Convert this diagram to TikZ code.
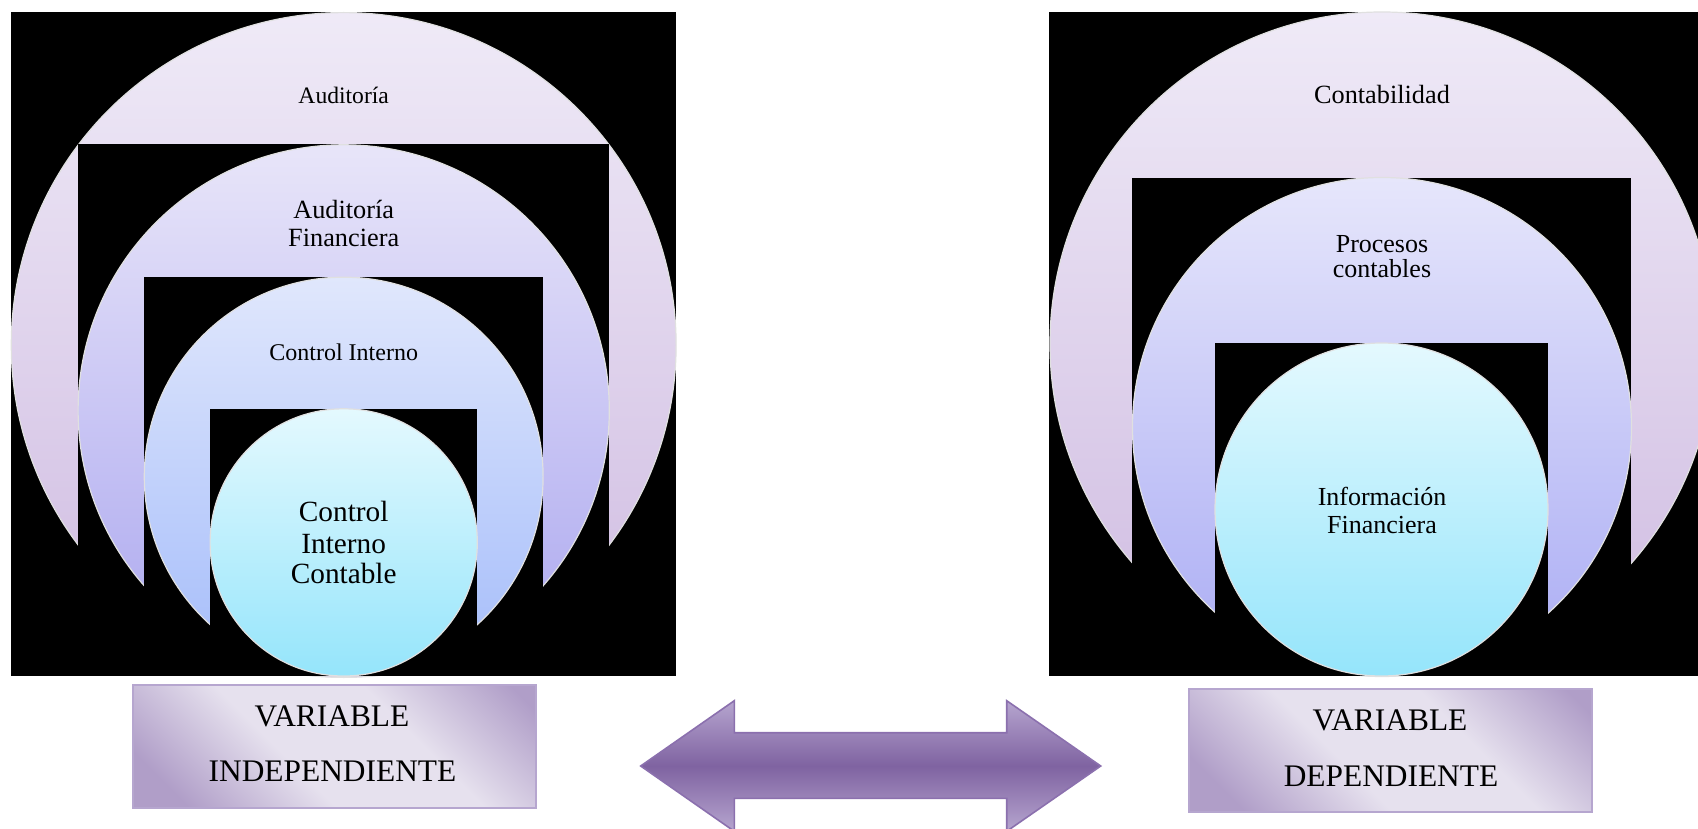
\documentclass[tikz,border=0pt]{standalone}
\usepackage{fontspec}
\setmainfont{Liberation Serif}
\definecolor{bxd}{HTML}{B09EC8}
\definecolor{bxl}{HTML}{E6E1EE}
\definecolor{bxedge}{HTML}{B6A6CF}
\definecolor{arl}{HTML}{B6A5CF}
\definecolor{ard}{HTML}{7F63A1}
\definecolor{aredge}{HTML}{8B70AE}
\definecolor{c1t}{HTML}{EFEAF7}
\definecolor{c1b}{HTML}{CFBBE1}
\definecolor{c2t}{HTML}{E8E5F9}
\definecolor{c2b}{HTML}{ABA7EF}
\definecolor{c3t}{HTML}{E0E7FC}
\definecolor{c3b}{HTML}{A4BCFA}
\definecolor{c4t}{HTML}{E4F9FE}
\definecolor{c4b}{HTML}{95E5FB}
\definecolor{r2t}{HTML}{E6E6FB}
\definecolor{r2b}{HTML}{AAACF4}
\pgfdeclarehorizontalshading{boxsh}{100bp}{color(0bp)=(bxd); color(22bp)=(bxd); color(42bp)=(bxl); color(62bp)=(bxl); color(82bp)=(bxd); color(100bp)=(bxd)}
\begin{document}
\begin{tikzpicture}[x=1pt,y=-1pt,
  disc/.style={circle, inner sep=0pt, outer sep=0pt, draw=white!88!black, line width=1.2pt},
  hole/.style={fill=black},
  lbl/.style={anchor=base, inner sep=0pt, font=\fontsize{#1}{#1}\selectfont},
  varbox/.style={rectangle, inner sep=0pt, draw=bxedge, line width=2pt, shading=boxsh, shading angle=45},
  big/.style={anchor=base, inner sep=0pt, font=\fontsize{31.4}{32}\selectfont},
  dblarrow/.style={draw=aredge, line width=1.6pt, line join=miter, top color=arl, bottom color=arl, middle color=ard}]
\useasboundingbox (0,0) rectangle (1698,829);
\fill[white] (0,0) rectangle (1698,829);
\begin{scope}
\clip (0,0) rectangle (1698,829);
% ---------- left panel ----------
\fill[hole] (11,12) rectangle (676,676);
\node[disc, minimum size=664.8pt, top color=c1t, bottom color=c1b] (L1) at (343.7,345) {};
\fill[hole] (78.2,144.4) rectangle (609.3,676);
\node[disc, minimum size=531.2pt, top color=c2t, bottom color=c2b] (L2) at (343.7,410.4) {};
\fill[hole] (144.4,277.2) rectangle (543,676);
\node[disc, minimum size=398.8pt, top color=c3t, bottom color=c3b] (L3) at (343.7,476.6) {};
\fill[hole] (210.1,409) rectangle (477.4,676);
\node[disc, minimum size=267.2pt, top color=c4t, bottom color=c4b] (L4) at (343.7,542.4) {};
\node[lbl=23.6] (tA) at (343.7,103.7) {Auditoría};
\node[lbl=26.3] (tAF1) at (343.7,219) {Auditoría};
\node[lbl=26.3] (tAF2) at (343.7,246.8) {Financiera};
\node[lbl=24] (tCI) at (343.7,360) {Control Interno};
\node[lbl=29.3] (tCIC1) at (343.7,521.7) {Control};
\node[lbl=29.3] (tCIC2) at (343.7,553) {Interno};
\node[lbl=29.3] (tCIC3) at (343.7,583.4) {Contable};
% ---------- right panel ----------
\fill[hole] (1049,12) rectangle (1715,676);
\node[disc, minimum size=664pt, top color=c1t, bottom color=c1b] (R1) at (1382,344) {};
\fill[hole] (1131.7,178) rectangle (1631,676);
\node[disc, minimum size=499pt, top color=r2t, bottom color=r2b] (R2) at (1382,427) {};
\fill[hole] (1215,343) rectangle (1548,676);
\node[disc, minimum size=333pt, top color=c4t, bottom color=c4b] (R3) at (1381.5,509.5) {};
\node[lbl=26.3] (tC) at (1382,104) {Contabilidad};
\node[lbl=26] (tPC1) at (1382,252.6) {Procesos};
\node[lbl=26] (tPC2) at (1382,278) {contables};
\node[lbl=26] (tIF1) at (1382,505) {Información};
\node[lbl=26] (tIF2) at (1382,533) {Financiera};
% ---------- bottom boxes ----------
\node[varbox, minimum width=403pt, minimum height=123pt] (VI) at (334.4,746) {};
\node[big] (VI1) at (332,726.7) {VARIABLE};
\node[big] (VI2) at (332.5,781) {INDEPENDIENTE};
\node[varbox, minimum width=403pt, minimum height=122.5pt] (VD) at (1390.5,750.3) {};
\node[big] (VD1) at (1390,730) {VARIABLE};
\node[big] (VD2) at (1391,786) {DEPENDIENTE};
% ---------- double arrow ----------
\path[dblarrow] (640.7,766) -- (734.3,700.7) -- (734.3,732.7) -- (1006.7,732.7)
  -- (1006.7,700.7) -- (1100.7,766) -- (1006.7,831.3) -- (1006.7,798.3)
  -- (734.3,798.3) -- (734.3,831.3) -- cycle;
\end{scope}
\end{tikzpicture}
\end{document}
